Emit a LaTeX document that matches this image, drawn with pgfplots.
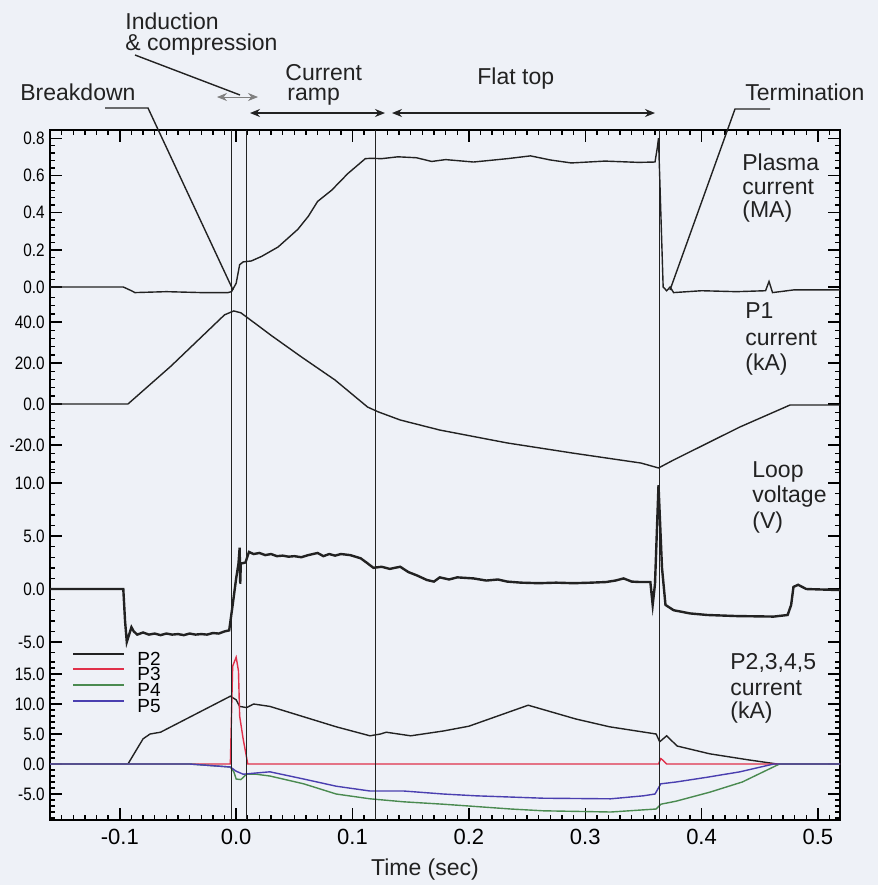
\documentclass[border=0pt]{standalone}
\usepackage{fontspec}
\setmainfont{Liberation Sans}
\usepackage{pgfplots}
\pgfplotsset{compat=1.18}
\usetikzlibrary{arrows.meta}
\definecolor{bg}{HTML}{EEF1F7}
\definecolor{cred}{HTML}{E0304A}
\definecolor{cgreen}{HTML}{4A8A50}
\definecolor{cblue}{HTML}{4A3FB0}
\definecolor{cblack}{HTML}{222222}
\begin{document}
\begin{tikzpicture}
\fill[bg] (0,0) rectangle (439pt,-442.5pt);

% Panel 4: P2..P5 current (base axis with x ticks)
\begin{axis}[at={(25pt,-410pt)}, anchor=south west, scale only axis,
  width=395pt, height=345pt, xmin=-0.160, xmax=0.519,
  major tick length=6pt, minor tick length=2.5pt,
  every tick/.append style={black, line width=0.7pt},
  yticklabel style={font=\fontsize{9}{9}\selectfont, xscale=0.85, inner sep=1pt, xshift=-2pt},
  axis line style={black, line width=0.9pt},
  ymin=-9.333, ymax=105.67,
  xtick={-0.1,0,0.1,0.2,0.3,0.4,0.5},
  xticklabels={-0.1,0.0,0.1,0.2,0.3,0.4,0.5},
  minor xtick={-0.15,-0.14,...,0.52},
  xticklabel style={font=\fontsize{11}{11}\selectfont, yshift=-1pt},
  ytick={-5,0,5,10,15}, yticklabels={-5.0,0.0,5.0,10.0,15.0},
  minor ytick={-9,-8,...,17},
  legend style={at={(0.0278,0.248)}, anchor=north west, draw=none, fill=none,
    inner sep=0pt, row sep=0pt, column sep=6pt,
    nodes={inner sep=0pt, text height=7.9pt, text depth=0pt, font=\fontsize{9.5}{9.5}\selectfont}},
  legend cell align=left,
  legend image code/.code={\draw[#1, line width=1pt] (0pt,1.8pt) -- (25.5pt,1.8pt);},
]
\addplot[cblack, line width=0.7pt] coordinates {
(-0.16,0) (-0.093,0) (-0.080,4.2) (-0.074,5.0) (-0.065,5.3) (-0.005,11.3) (0.0,10.7) (0.003,9.6) (0.009,9.4) (0.015,10.0) (0.029,9.6) (0.086,6.2) (0.115,4.7) (0.124,5.0) (0.129,5.3) (0.15,4.7) (0.178,5.5) (0.2,6.3) (0.251,9.8) (0.292,7.5) (0.321,6.2) (0.361,5.0) (0.364,3.7) (0.37,4.7) (0.379,3.0) (0.407,1.7) (0.44,0.7) (0.465,0.0) (0.519,0)};
\addlegendentry{P2}
\addplot[cred, line width=0.7pt] coordinates {
(-0.16,0) (-0.005,0) (-0.003,16.3) (0.0,17.8) (0.002,15.5) (0.003,8) (0.006,4.2) (0.010,0) (0.363,0) (0.365,0.9) (0.367,0.6) (0.370,0) (0.519,0)};
\addlegendentry{P3}
\addplot[cgreen, line width=0.7pt] coordinates {
(-0.16,0) (-0.04,0) (-0.005,-0.5) (-0.002,-1.3) (0.0,-2.5) (0.004,-2.6) (0.009,-1.7) (0.017,-1.7) (0.029,-2.0) (0.058,-3.3) (0.086,-5.0) (0.115,-5.8) (0.144,-6.3) (0.178,-6.7) (0.2,-7.0) (0.236,-7.5) (0.264,-7.8) (0.322,-8.0) (0.361,-7.5) (0.365,-6.7) (0.378,-6.2) (0.407,-4.7) (0.435,-3.0) (0.467,0) (0.519,0)};
\addlegendentry{P4}
\addplot[cblue, line width=0.7pt] coordinates {
(-0.16,0) (-0.04,0) (-0.005,-0.5) (0.0,-1.2) (0.006,-1.7) (0.017,-1.5) (0.029,-1.3) (0.058,-2.5) (0.086,-3.7) (0.115,-4.5) (0.144,-4.5) (0.178,-5.0) (0.206,-5.3) (0.264,-5.7) (0.322,-5.8) (0.35,-5.3) (0.36,-5.0) (0.365,-3.3) (0.378,-3.0) (0.405,-2.2) (0.433,-1.3) (0.462,0) (0.519,0)};
\addlegendentry{P5}
\addplot[cblack, line width=0.7pt, forget plot] coordinates {(-0.004,-9.333) (-0.004,105.67)};
\addplot[cblack, line width=0.7pt, forget plot] coordinates {(0.009,-9.333) (0.009,105.67)};
\addplot[cblack, line width=0.7pt, forget plot] coordinates {(0.120,-9.333) (0.120,105.67)};
\addplot[cblack, line width=0.7pt, forget plot] coordinates {(0.364,-9.333) (0.364,105.67)};
\end{axis}

% Panel 3: loop voltage
\begin{axis}[at={(25pt,-410pt)}, anchor=south west, scale only axis,
  width=395pt, height=345pt, xmin=-0.160, xmax=0.519,
  major tick length=6pt, minor tick length=2.5pt,
  every tick/.append style={black, line width=0.7pt},
  yticklabel style={font=\fontsize{9}{9}\selectfont, xscale=0.85, inner sep=1pt, xshift=-2pt},
  axis line style={draw=none}, xtick=\empty,
  ymin=-21.79, ymax=43.30,
  ytick={-5,0,5,10}, yticklabels={-5.0,0.0,5.0,10.0},
  minor ytick={-6,-5,...,12}]
\addplot[cblack, line width=1.2pt] coordinates {
(-0.16,0) (-0.097,0) (-0.0955,-3) (-0.094,-5.0) (-0.092,-4.3) (-0.090,-3.6) (-0.088,-4.0) (-0.085,-4.3) (-0.080,-4.1) (-0.075,-4.3) (-0.070,-4.2) (-0.065,-4.35) (-0.060,-4.2) (-0.055,-4.3) (-0.050,-4.25) (-0.045,-4.35) (-0.040,-4.2) (-0.035,-4.3) (-0.030,-4.25) (-0.025,-4.3) (-0.020,-4.15) (-0.015,-4.2) (-0.010,-4.0) (-0.006,-3.9) (-0.003,-1.5) (0.0,1.0) (0.002,2.4) (0.003,3.9) (0.0035,0.5) (0.004,2.4) (0.008,2.5) (0.011,3.5) (0.015,3.3) (0.020,3.4) (0.025,3.2) (0.030,3.3) (0.035,3.1) (0.040,3.15) (0.045,3.05) (0.050,3.1) (0.056,3.0) (0.062,3.2) (0.070,3.4) (0.075,3.1) (0.080,3.3) (0.085,3.15) (0.090,3.3) (0.098,3.2) (0.107,2.9) (0.112,2.5) (0.118,2.0) (0.125,2.1) (0.132,1.9) (0.141,2.1) (0.148,1.6) (0.155,1.3) (0.164,0.85) (0.170,0.7) (0.175,1.1) (0.183,0.9) (0.190,1.1) (0.204,1.0) (0.215,0.8) (0.225,0.9) (0.233,0.7) (0.245,0.6) (0.26,0.55) (0.275,0.6) (0.29,0.55) (0.305,0.6) (0.318,0.66) (0.326,0.8) (0.333,1.0) (0.340,0.7) (0.347,0.66) (0.356,0.66) (0.358,-1.5) (0.360,0.5) (0.363,9.8) (0.366,2.0) (0.369,-1.5) (0.376,-2.0) (0.390,-2.3) (0.405,-2.45) (0.430,-2.55) (0.462,-2.6) (0.474,-2.45) (0.477,-1.5) (0.479,0.2) (0.483,0.4) (0.490,0.0) (0.519,-0.1)};
\end{axis}

% Panel 2: P1 current
\begin{axis}[at={(25pt,-410pt)}, anchor=south west, scale only axis,
  width=395pt, height=345pt, xmin=-0.160, xmax=0.519,
  major tick length=6pt, minor tick length=2.5pt,
  every tick/.append style={black, line width=0.7pt},
  yticklabel style={font=\fontsize{9}{9}\selectfont, xscale=0.85, inner sep=1pt, xshift=-2pt},
  axis line style={draw=none}, xtick=\empty,
  ymin=-202.93, ymax=133.66,
  ytick={-20,0,20,40}, yticklabels={-20.0,0.0,20.0,40.0},
  minor ytick={-32,-28,...,52}]
\addplot[cblack, line width=0.7pt] coordinates {
(-0.16,0) (-0.093,0) (-0.056,18.5) (-0.010,43.5) (-0.002,45.4) (0.004,44.5) (0.010,42) (0.030,33.5) (0.056,23) (0.085,11.7) (0.113,-1.5) (0.122,-3.8) (0.141,-7.8) (0.175,-12.7) (0.233,-19) (0.290,-24) (0.348,-28.8) (0.363,-31.2) (0.376,-27.3) (0.433,-11.2) (0.476,-0.5) (0.519,-0.5)};
\end{axis}

% Panel 1: plasma current
\begin{axis}[at={(25pt,-410pt)}, anchor=south west, scale only axis,
  width=395pt, height=345pt, xmin=-0.160, xmax=0.519,
  major tick length=6pt, minor tick length=2.5pt,
  every tick/.append style={black, line width=0.7pt},
  yticklabel style={font=\fontsize{9}{9}\selectfont, xscale=0.85, inner sep=1pt, xshift=-2pt},
  axis line style={draw=none}, xtick=\empty,
  ymin=-2.8656, ymax=0.8441,
  ytick={0,0.2,0.4,0.6,0.8}, yticklabels={0.0,0.2,0.4,0.6,0.8},
  minor ytick={0,0.04,...,0.84}]
\addplot[cblack, line width=0.7pt] coordinates {
(-0.160,0.0) (-0.097,0.0) (-0.090,-0.02) (-0.087,-0.03) (-0.06,-0.025) (-0.03,-0.03) (-0.007,-0.03) (-0.004,-0.025) (0.0,0.02) (0.003,0.12) (0.006,0.135) (0.013,0.14) (0.022,0.165) (0.036,0.215) (0.053,0.31) (0.062,0.38) (0.070,0.46) (0.082,0.52) (0.096,0.61) (0.111,0.69) (0.116,0.692) (0.125,0.69) (0.139,0.70) (0.155,0.695) (0.168,0.675) (0.180,0.685) (0.204,0.672) (0.233,0.69) (0.253,0.705) (0.270,0.683) (0.288,0.667) (0.317,0.677) (0.346,0.67) (0.360,0.672) (0.362,0.75) (0.363,0.80) (0.365,0.40) (0.367,0.0) (0.370,-0.02) (0.373,0.0) (0.376,-0.03) (0.400,-0.02) (0.430,-0.025) (0.455,-0.02) (0.458,0.03) (0.461,-0.03) (0.480,-0.015) (0.519,-0.015)};
\end{axis}

% annotations (pixel coordinates of the reference)
\begin{scope}[x=0.5pt, y=-0.5pt, font=\fontsize{11.5}{11.5}\selectfont, text=cblack]
\node[anchor=west, inner sep=0pt] at (125,21) {Induction};
\node[anchor=west, inner sep=0pt] at (125,45) {\& compression};
\node[anchor=west, inner sep=0pt] at (20,92) {Breakdown};
\node[anchor=west, inner sep=0pt] at (285,73) {Current};
\node[anchor=west, inner sep=0pt] at (287,97) {ramp};
\node[anchor=west, inner sep=0pt] at (477,79) {Flat top};
\node[anchor=west, inner sep=0pt] at (745,92) {Termination};
\node[anchor=west, inner sep=0pt] at (742,162) {Plasma};
\node[anchor=west, inner sep=0pt] at (742,187) {current};
\node[anchor=west, inner sep=0pt] at (742,212) {(MA)};
\node[anchor=west, inner sep=0pt] at (745,311) {P1};
\node[anchor=west, inner sep=0pt] at (745,338) {current};
\node[anchor=west, inner sep=0pt] at (745,365) {(kA)};
\node[anchor=west, inner sep=0pt] at (752,472) {Loop};
\node[anchor=west, inner sep=0pt] at (752,497) {voltage};
\node[anchor=west, inner sep=0pt] at (752,523) {(V)};
\node[anchor=west, inner sep=0pt] at (730,663) {P2,3,4,5};
\node[anchor=west, inner sep=0pt] at (730,688) {current};
\node[anchor=west, inner sep=0pt] at (730,713) {(kA)};
\node[inner sep=0pt] at (425,870) {Time (sec)};
\draw[cblack, line width=0.7pt] (105,108) -- (148,108) -- (233,290);
\draw[cblack, line width=0.7pt] (135,55) -- (240,95);
\draw[cblack, line width=0.7pt] (770,109) -- (735,109) -- (670,290);
\draw[gray, line width=0.4pt, {Stealth[length=5pt,width=4pt]}-{Stealth[length=5pt,width=4pt]}] (217,97) -- (258,97);
\draw[cblack, line width=0.7pt, {Stealth[length=5pt,width=4pt]}-{Stealth[length=5pt,width=4pt]}] (250,113) -- (385,113);
\draw[cblack, line width=0.7pt, {Stealth[length=5pt,width=4pt]}-{Stealth[length=5pt,width=4pt]}] (392,113) -- (655,113);
\end{scope}
\end{tikzpicture}
\end{document}
